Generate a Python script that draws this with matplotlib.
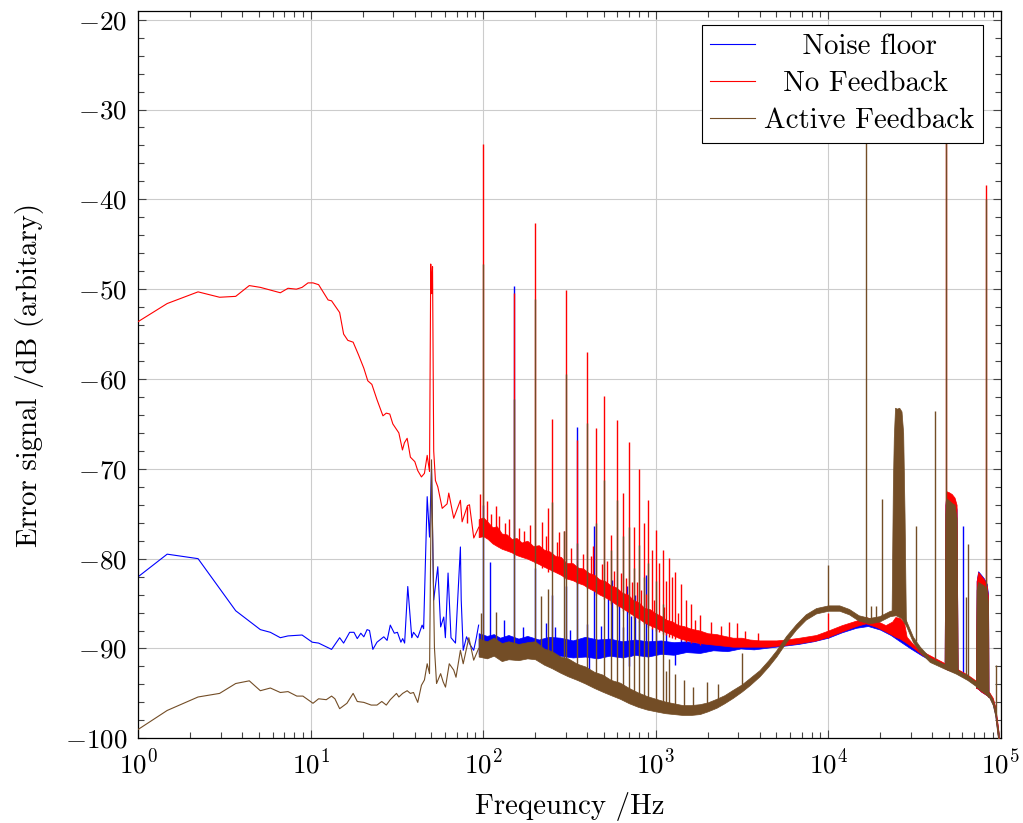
import matplotlib
matplotlib.use('Agg')
import matplotlib.pyplot as plt
import numpy as np

plt.rcParams.update({
    'font.family': 'serif',
    'font.serif': ['cmr10'],
    'mathtext.fontset': 'cm',
    'axes.formatter.use_mathtext': True,
    'font.size': 19.5,
})

# ---- Noise floor (blue) ----
blue_f = [1, 1.47, 2.22, 3.67, 5.1, 5.83, 6.66, 7.38, 8.9, 10.2, 11.1, 13.2, 14.7, 15.5, 16.8,
          17.8, 18.6, 19.5, 20.3, 21.2, 21.9, 22.9, 24.2, 26.5, 27.7, 28.9, 30.5, 31.8, 33.3,
          34.1, 35.0, 36.5, 38.5, 39.4, 41.7, 44.2, 45.1, 47.3, 48.8, 50.1, 51.6, 54.5, 56.6,
          59.0, 60.3, 62.5, 65.0, 69.0, 73.7, 74.5, 76.5, 80.0, 84.0, 88.0, 91.0, 94.0]
blue_db = [-82.0, -79.5, -80.0, -85.8, -87.9, -88.2, -88.8, -88.6, -88.5, -89.3, -89.4, -90.1,
           -88.8, -89.4, -88.2, -88.2, -88.9, -88.3, -88.7, -87.9, -88.0, -90.1, -89.3, -88.7,
           -89.1, -87.4, -88.3, -88.2, -89.3, -88.9, -89.4, -83.1, -88.8, -88.2, -88.8, -87.4,
           -87.8, -73.1, -77.6, -70.0, -84.6, -80.9, -87.6, -86.5, -88.8, -81.6, -88.8, -89.4,
           -78.7, -84.6, -90.2, -88.7, -89.6, -90.2, -88.9, -87.4]
blue_band_f = [94, 105, 115, 125, 140, 160, 180, 210, 240, 280, 330, 390, 460, 540, 640, 760,
               900, 1070, 1270, 1500, 1800, 2150, 2600, 3100, 3700, 4500, 5500, 6700, 8200,
               10000, 12000, 14500, 17000, 20000, 23000, 26000, 30000, 35000, 41000, 47000,
               55000, 64000, 72000, 80000, 86000, 90000, 93000, 95500, 97300]
blue_band_lo = [-90.6, -91.0, -90.7, -90.9, -91.1, -90.7, -91.0, -90.9, -91.2, -90.8, -91.0,
                -90.9, -91.1, -90.8, -91.0, -90.7, -90.9, -90.6, -90.7, -90.4, -90.5, -90.2,
                -90.3, -90.0, -90.1, -89.9, -89.7, -89.5, -89.2, -88.8, -88.2, -87.7, -87.5,
                -87.9, -88.5, -89.2, -90.0, -90.8, -91.5, -92.1, -92.7, -93.4, -94.1, -94.8,
                -95.4, -96.2, -97.4, -99.2, -100.5]
blue_band_hi = [-88.3, -88.6, -88.4, -88.8, -88.5, -88.9, -88.6, -89.0, -88.7, -88.8, -89.1,
                -88.7, -89.0, -88.9, -89.2, -89.0, -89.2, -89.1, -89.3, -89.2, -89.4, -89.3,
                -89.5, -89.4, -89.6, -89.5, -89.4, -89.1, -88.7, -88.2, -87.6, -87.1, -86.9,
                -87.4, -88.1, -88.7, -89.5, -90.4, -91.1, -91.7, -92.3, -93.0, -93.7, -94.4,
                -95.0, -95.7, -96.6, -98.3, -99.5]
blue_spike_f = [100, 109, 132, 150, 170, 200, 230, 250, 260, 300, 320, 350, 400, 410, 437, 480,
                530, 560, 610, 650, 680, 700, 720, 760, 800, 874, 950, 1000, 1150, 1300, 1400,
                60300]
blue_spike_lo = [-89.5, -89.6, -89.6, -89.7, -90.5, -89.7, -90.6, -89.8, -90.6, -89.8, -90.7,
                 -89.8, -90.7, -92.3, -89.9, -90.8, -89.9, -89.9, -89.9, -90.8, -89.9, -92.0,
                 -90.8, -89.9, -90.8, -90.0, -90.7, -90.0, -90.6, -91.8, -90.5, -93.0]
blue_spike_hi = [-74.0, -80.4, -86.8, -49.7, -87.6, -81.0, -87.2, -84.0, -87.6, -83.0, -87.9,
                 -65.3, -87.3, -89.0, -76.4, -87.5, -83.5, -82.4, -84.6, -87.6, -83.0, -89.0,
                 -86.4, -84.0, -86.9, -81.8, -87.7, -86.0, -88.0, -89.5, -88.3, -76.4]
blue_cl1_f = [47300, 47800, 48500, 50000, 52000, 54000, 55500, 56300]
blue_cl1_top = [-92.0, -74.0, -72.7, -72.9, -73.1, -73.4, -74.5, -92.6]
blue_cl1_bot = [-92.2, -92.2, -92.3, -92.4, -92.5, -92.6, -92.7, -92.7]
blue_cl2_f = [71800, 72500, 74000, 77000, 80000, 83000, 84500, 85000]
blue_cl2_top = [-94.3, -82.5, -81.4, -81.8, -82.2, -82.8, -84.0, -95.2]
blue_cl2_bot = [-94.4, -94.4, -94.5, -94.8, -95.0, -95.2, -95.3, -95.4]

# ---- No Feedback (red) ----
red_f = [1, 1.47, 2.22, 2.96, 3.67, 4.4, 5.1, 6.66, 7.38, 8.25, 8.9, 9.64, 10.3, 11.1, 12.6,
         13.2, 14.7, 15.5, 16.4, 17.6, 18.9, 20.3, 21.4, 22.6, 24.2, 26.2, 27.4, 28.7, 29.9,
         32.4, 34.0, 34.9, 36.2, 37.8, 40.1, 41.7, 43.8, 45.6, 47.3, 48.8, 49.6, 50.2, 50.8,
         51.6, 52.8, 54.5, 57.8, 61.7, 63.1, 67.4, 73.7, 75.4, 81.0, 83.2, 88.1, 94.2]
red_db = [-53.6, -51.6, -50.3, -50.9, -50.8, -49.6, -49.8, -50.4, -49.9, -50.0, -49.8, -49.3,
          -49.3, -49.5, -51.2, -51.3, -52.6, -55.0, -55.7, -55.9, -57.3, -58.8, -60.2, -60.6,
          -62.3, -64.1, -63.8, -63.9, -65.0, -66.0, -67.9, -67.1, -66.6, -68.7, -69.2, -70.2,
          -70.9, -70.5, -68.5, -70.3, -47.2, -50.5, -47.5, -68.0, -71.3, -72.0, -74.4, -73.9,
          -72.7, -75.5, -73.5, -75.9, -74.1, -74.0, -77.7, -76.5]
red_band_f = [94, 100, 106, 113, 120, 128, 137, 146, 156, 167, 180, 195, 210, 225, 243, 262,
              282, 303, 330, 355, 380, 410, 440, 472, 510, 550, 590, 640, 690, 740, 800, 860,
              920, 1000, 1080, 1150, 1250, 1350, 1450, 1600, 1800, 2000, 2250, 2500, 2800,
              3150, 3500, 4000, 4500, 5000, 5700, 6800, 8500, 10000, 12000, 14500, 16500,
              19000, 21500, 23500, 24500, 26000, 27500, 28500, 31000, 35000, 41000, 47000,
              55000, 64000, 72000, 80000, 86000, 90000, 93000, 95500, 97300]
red_band_lo = [-77.6, -77.5, -77.8, -78.3, -78.6, -78.9, -79.1, -79.3, -79.6, -79.8, -80.0,
               -80.3, -80.6, -80.9, -81.2, -81.5, -81.8, -82.2, -82.4, -82.7, -82.9, -83.3,
               -83.6, -84.0, -84.3, -84.7, -85.1, -85.5, -85.9, -86.3, -86.7, -87.1, -87.4,
               -87.7, -88.0, -88.2, -88.5, -88.8, -89.0, -89.2, -89.4, -89.5, -89.6, -89.7,
               -89.8, -89.8, -89.8, -89.8, -89.8, -89.7, -89.6, -89.4, -89.1, -88.7, -88.1,
               -87.5, -87.2, -87.6, -88.1, -88.5, -88.7, -88.9, -89.2, -89.4, -89.9, -90.7,
               -91.4, -92.0, -92.6, -93.3, -94.0, -94.7, -95.3, -96.1, -97.2, -99.1, -100.5]
red_band_hi = [-75.6, -75.4, -75.9, -76.5, -76.4, -77.2, -77.3, -77.8, -77.7, -78.2, -78.0,
               -78.6, -78.5, -79.0, -79.2, -79.7, -79.8, -80.5, -80.5, -81.0, -81.1, -81.6,
               -81.8, -82.3, -82.5, -83.0, -83.2, -83.8, -84.0, -84.6, -84.9, -85.5, -85.6,
               -86.1, -86.4, -86.8, -87.0, -87.4, -87.5, -87.8, -88.0, -88.3, -88.4, -88.6,
               -88.8, -88.8, -89.0, -89.1, -89.1, -89.1, -89.0, -88.8, -88.5, -88.0, -87.4,
               -86.9, -86.5, -86.9, -87.4, -87.0, -86.5, -86.6, -87.1, -88.7, -89.5, -90.3,
               -91.0, -91.6, -92.2, -92.9, -93.6, -94.3, -94.9, -95.5, -96.5, -98.1, -99.4]
red_spike_f = [81, 96, 100, 105, 111, 118, 124, 133, 141, 150, 162, 173, 186, 200, 219, 230,
               238, 250, 268, 276, 293, 300, 322, 350, 378, 400, 420, 430, 450, 485, 500, 525,
               550, 575, 600, 625, 650, 675, 700, 725, 750, 775, 800, 825, 850, 880, 900, 950,
               975, 1000, 1050, 1100, 1120, 1150, 1200, 1250, 1300, 1350, 1400, 1500, 1600,
               1700, 1800, 2100, 2400, 2650, 2950, 3300, 3900, 10000, 48300, 81700]
red_spike_lo = [-76.0, -76.5, -77.0, -76.5, -77.0, -78.0, -77.8, -78.2, -78.4, -79.5, -79.0,
                -79.2, -79.5, -80.5, -81.0, -80.3, -81.5, -81.5, -80.9, -81.0, -82.2, -82.3,
                -81.6, -82.8, -82.2, -83.3, -82.6, -82.7, -84.0, -83.3, -84.5, -83.6, -85.0,
                -84.0, -85.4, -84.5, -85.8, -84.9, -86.2, -85.3, -86.6, -85.7, -87.0, -86.0,
                -87.3, -86.3, -87.6, -87.8, -86.8, -88.0, -88.2, -88.4, -87.5, -88.5, -88.7,
                -88.8, -88.9, -88.0, -89.1, -89.3, -89.4, -88.5, -89.6, -88.9, -89.1, -89.1,
                -89.2, -89.3, -89.4, -88.8, -92.0, -94.6]
red_spike_hi = [-74.1, -72.8, -33.8, -73.6, -75.0, -74.1, -75.3, -76.0, -75.6, -50.4, -76.6,
                -76.9, -76.3, -42.6, -75.9, -77.5, -74.4, -64.5, -78.2, -77.0, -76.9, -50.1,
                -78.8, -66.8, -79.5, -57.0, -79.7, -78.6, -65.4, -80.6, -61.9, -80.3, -77.4,
                -81.4, -64.6, -81.6, -72.7, -82.2, -67.0, -82.6, -76.5, -82.6, -70.0, -83.5,
                -76.0, -83.9, -73.5, -79.0, -84.6, -76.8, -80.5, -79.0, -85.4, -82.5, -79.9,
                -82.0, -81.5, -86.0, -82.8, -84.6, -85.0, -86.8, -86.3, -87.0, -87.5, -87.0,
                -87.2, -88.0, -88.3, -86.0, -25.0, -38.4]
red_cl1_f = [47300, 47800, 48500, 50000, 52000, 54000, 55500, 56300]
red_cl1_top = [-92.0, -74.0, -72.5, -72.6, -72.8, -73.2, -74.0, -92.6]
red_cl1_bot = [-92.2, -92.2, -92.3, -92.4, -92.5, -92.6, -92.7, -92.7]
red_cl2_f = [71800, 72500, 74000, 77000, 80000, 83000, 84500, 85000]
red_cl2_top = [-94.3, -82.5, -81.5, -81.9, -82.3, -83.0, -84.3, -95.2]
red_cl2_bot = [-94.4, -94.4, -94.5, -94.8, -95.0, -95.2, -95.3, -95.4]

# ---- Active Feedback (brown) ----
brown_f = [1, 1.47, 2.22, 2.96, 3.67, 4.4, 5.1, 5.83, 6.66, 7.38, 8.3, 9.0, 10.3, 11.1, 12.3,
           13.2, 13.8, 14.7, 16.2, 17.6, 18.6, 20.3, 22.4, 24.2, 25.8, 27.4, 28.9, 31.4, 32.4,
           34.1, 36.2, 37.8, 39.4, 41.7, 43.8, 45.6, 47.3, 48.8, 50.1, 52.1, 53.6, 56.6, 58.5,
           60.4, 63.5, 67.4, 69.5, 73.7, 76.5, 82.5, 88.0, 94.0]
brown_db = [-99.0, -96.9, -95.4, -95.0, -93.9, -93.6, -94.7, -94.4, -94.9, -94.8, -95.3, -95.3,
            -96.1, -95.6, -95.7, -95.3, -95.6, -96.7, -96.1, -95.0, -95.9, -96.0, -96.3, -96.3,
            -95.9, -96.3, -95.7, -95.0, -95.4, -95.0, -94.7, -95.0, -94.9, -96.0, -94.1, -93.5,
            -91.7, -92.8, -69.0, -89.9, -93.9, -92.8, -93.7, -94.3, -91.7, -92.4, -93.2, -90.2,
            -91.7, -88.8, -91.3, -90.0]
brown_band_f = [94, 105, 115, 128, 140, 160, 180, 200, 225, 250, 280, 310, 350, 390, 440, 490,
                550, 620, 700, 790, 890, 1000, 1130, 1270, 1430, 1600, 1800, 2000, 2250, 2500,
                2800, 3150, 3500, 4000, 4500, 5000, 5700, 6500, 7400, 8500, 10000, 11600, 13200,
                15000, 17300, 19800, 22800, 24600, 26500, 28300, 31000, 34000, 38800, 46600,
                55000, 64000, 72000, 80000, 86000, 90000, 93000, 95500, 97300]
brown_band_lo = [-90.9, -91.1, -90.8, -91.4, -91.2, -91.3, -91.1, -91.2, -91.8, -92.2, -92.7,
                 -93.1, -93.5, -93.9, -94.4, -94.8, -95.2, -95.6, -96.1, -96.5, -96.8, -97.0,
                 -97.2, -97.3, -97.4, -97.4, -97.3, -97.0, -96.6, -96.1, -95.5, -94.8, -94.1,
                 -93.1, -92.0, -90.9, -89.3, -87.9, -86.8, -86.1, -85.8, -85.8, -86.2, -86.9,
                 -87.2, -87.0, -86.4, -86.3, -86.6, -87.5, -89.3, -90.4, -91.5, -92.2, -92.8,
                 -93.5, -94.2, -94.9, -95.5, -96.3, -97.5, -99.4, -100.5]
brown_band_hi = [-88.9, -89.2, -88.8, -89.4, -89.2, -89.5, -89.3, -89.2, -90.0, -90.3, -90.9,
                 -91.1, -91.7, -92.0, -92.6, -92.9, -93.5, -93.8, -94.4, -94.9, -95.3, -95.6,
                 -95.9, -96.1, -96.3, -96.3, -96.2, -96.0, -95.6, -95.2, -94.6, -94.0, -93.3,
                 -92.4, -91.3, -90.2, -88.6, -87.3, -86.2, -85.5, -85.2, -85.2, -85.6, -86.3,
                 -86.6, -86.4, -85.8, -85.7, -86.0, -86.9, -88.7, -89.8, -91.0, -91.7, -92.3,
                 -93.0, -93.7, -94.4, -95.0, -95.7, -96.7, -98.4, -99.4]
brown_spike_f = [97, 100, 118, 150, 200, 217, 238, 250, 293, 300, 350, 400, 450, 500, 550,
                 600, 650, 700, 750, 800, 850, 900, 1000, 1100, 1150, 1200, 1300, 1450, 1650,
                 1970, 2300, 3160, 10000, 16600, 17600, 19000, 20600, 32300, 41500, 48300,
                 63000, 64800, 81700, 94300]
brown_spike_lo = [-89.5, -89.5, -89.8, -90.3, -89.8, -90.5, -90.8, -91.0, -91.8, -92.0, -92.5,
                  -93.0, -93.5, -94.0, -94.3, -94.6, -95.0, -95.3, -95.6, -95.8, -96.0, -96.2,
                  -96.5, -96.6, -96.6, -96.8, -96.9, -97.0, -97.0, -96.8, -96.2, -94.5, -85.5,
                  -86.8, -87.0, -86.8, -86.5, -89.2, -91.2, -91.8, -93.0, -93.1, -94.5, -97.5]
brown_spike_hi = [-86.0, -47.2, -85.9, -62.2, -51.1, -84.2, -83.4, -73.7, -76.9, -59.4, -78.3,
                  -64.9, -76.0, -71.2, -79.0, -73.5, -77.5, -76.5, -81.0, -78.5, -82.0, -80.5,
                  -82.5, -85.0, -92.5, -91.2, -92.8, -93.5, -94.3, -93.7, -93.9, -90.5, -80.7,
                  -25.0, -85.3, -85.3, -73.4, -76.4, -63.6, -25.0, -84.3, -78.4, -40.0, -91.8]
brown_cl0_f = [23300, 23700, 24000, 24400, 25000, 25800, 26600, 27200, 27700, 28200]
brown_cl0_top = [-86.0, -72.0, -66.5, -63.2, -63.3, -63.2, -63.6, -66.0, -75.0, -87.0]
brown_cl0_bot = [-86.3, -86.2, -86.1, -86.1, -86.1, -86.2, -86.3, -86.5, -86.8, -87.2]
brown_cl1_f = [47300, 47800, 48500, 50000, 52000, 54000, 55500, 56300]
brown_cl1_top = [-92.0, -75.0, -73.3, -73.5, -73.8, -74.0, -75.5, -92.5]
brown_cl1_bot = [-92.1, -92.1, -92.2, -92.3, -92.4, -92.5, -92.6, -92.6]
brown_cl2_f = [71800, 72500, 74000, 77000, 80000, 83000, 84500, 85000]
brown_cl2_top = [-94.2, -83.5, -82.6, -82.8, -83.0, -83.5, -85.0, -95.2]
brown_cl2_bot = [-94.3, -94.3, -94.4, -94.7, -94.9, -95.1, -95.2, -95.3]

c_blue = '#0000ff'
c_red = '#ff0000'
c_brown = '#734d26'
lw = 0.8

fig = plt.figure(figsize=(10.23, 8.23), dpi=100)
ax = fig.add_axes([0.1352, 0.1029, 0.8430, 0.8841])

series = [
    (c_blue, '    Noise floor', blue_f, blue_db, blue_band_f, blue_band_lo, blue_band_hi,
     blue_spike_f, blue_spike_lo, blue_spike_hi,
     [(blue_cl1_f, blue_cl1_bot, blue_cl1_top), (blue_cl2_f, blue_cl2_bot, blue_cl2_top)]),
    (c_red, '  No Feedback', red_f, red_db, red_band_f, red_band_lo, red_band_hi,
     red_spike_f, red_spike_lo, red_spike_hi,
     [(red_cl1_f, red_cl1_bot, red_cl1_top), (red_cl2_f, red_cl2_bot, red_cl2_top)]),
    (c_brown, 'Active Feedback', brown_f, brown_db, brown_band_f, brown_band_lo, brown_band_hi,
     brown_spike_f, brown_spike_lo, brown_spike_hi,
     [(brown_cl0_f, brown_cl0_bot, brown_cl0_top), (brown_cl1_f, brown_cl1_bot, brown_cl1_top),
      (brown_cl2_f, brown_cl2_bot, brown_cl2_top)]),
]

z = 2
for col, lab, lf, ldb, bf, blo, bhi, sf, slo, shi, clusters in series:
    ax.plot(lf, ldb, color=col, lw=lw, label=lab, zorder=z)
    ax.fill_between(bf, blo, bhi, color=col, lw=0.5, zorder=z)
    ax.vlines(sf, slo, shi, color=col, lw=1.0, zorder=z)
    for cf, cb, ct in clusters:
        ax.fill_between(cf, cb, ct, color=col, lw=0.5, zorder=z)
    z += 1

ax.set_xscale('log')
ax.set_xlim(1, 1e5)
ax.set_ylim(-100, -19)
ax.set_yticks(np.arange(-100, -19, 10))
ax.set_yticks(np.arange(-100, -19, 2), minor=True)
ax.grid(True, which='major', color='#cccccc', lw=0.8)
ax.set_axisbelow(True)
ax.tick_params(which='both', direction='in', top=True, right=True, color='#444444', width=0.8)
ax.tick_params(which='major', length=6, pad=8)
ax.tick_params(which='minor', length=4)
for s in ax.spines.values():
    s.set_linewidth(0.9)

ax.set_xlabel('Freqeuncy /Hz', fontsize=20.8, labelpad=9)
ax.set_ylabel('Error signal /dB (arbitary)', fontsize=20.8, labelpad=15)

leg = ax.legend(loc='upper right', bbox_to_anchor=(0.9795, 0.9803), borderaxespad=0,
                fancybox=False, edgecolor='black', framealpha=1, handlelength=1.56,
                labelspacing=0.37, borderpad=0.3, handletextpad=0.3, fontsize=20.8)
leg.get_frame().set_linewidth(0.8)

plt.savefig('out.png', dpi=100)
